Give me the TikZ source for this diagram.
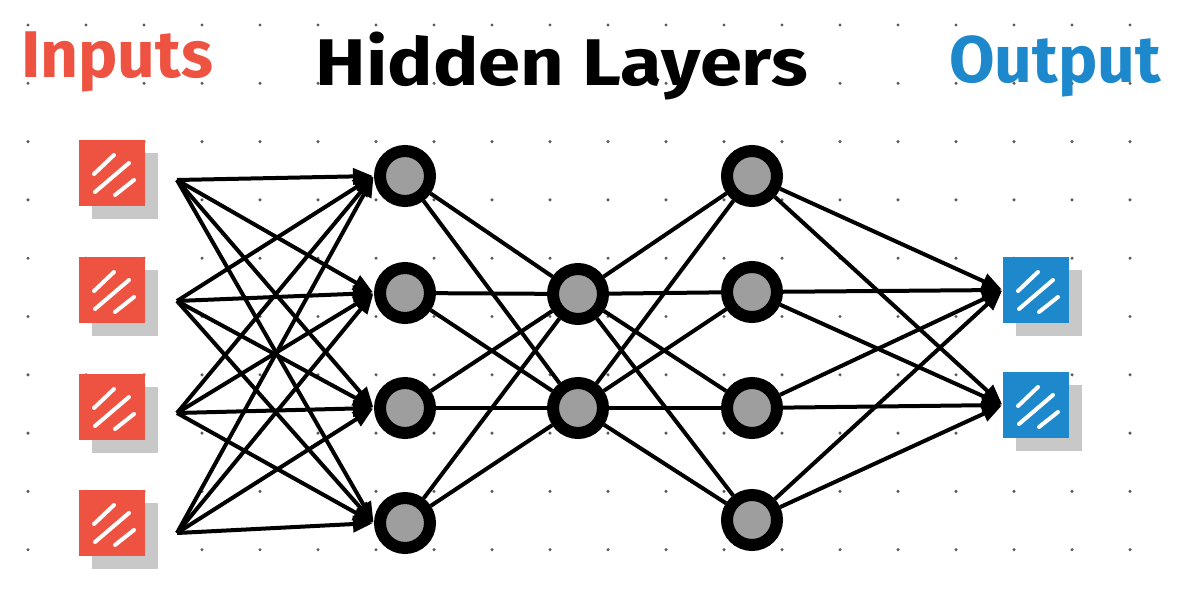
\documentclass[tikz,border=0pt]{standalone}
\usepackage{fontspec}
\setmainfont{Fira Sans}
\usetikzlibrary{arrows.meta,shadows}

\definecolor{inred}{RGB}{238,82,64}
\definecolor{outblue}{RGB}{30,136,204}
\definecolor{cellgray}{RGB}{158,158,158}
\definecolor{shadowgray}{RGB}{200,200,200}
\definecolor{dotgray}{RGB}{90,90,90}

\tikzset{
  title/.style={font=\fontsize{66}{72}\selectfont\bfseries, inner sep=0pt},
  inbox/.style={rectangle, fill=inred, minimum size=66pt, inner sep=0pt,
    drop shadow={shadow xshift=13pt, shadow yshift=-13pt, fill=shadowgray, opacity=1}},
  outbox/.style={inbox, fill=outblue},
  neuron/.style={circle, draw=black, line width=12pt, fill=cellgray, minimum size=50pt, inner sep=0pt},
  hatch/.style={white, line width=4pt, line cap=round},
  link/.style={black, line width=4pt},
  arrowlink/.style={link, -{Triangle[length=20pt,width=16pt]}, shorten >=1pt}
}

\begin{document}
\begin{tikzpicture}[x=1pt,y=-1pt]
\useasboundingbox (0,0) rectangle (1180,591);
% dot grid
\foreach \i in {0,...,19} \foreach \j in {0,...,9} \fill[dotgray] (28+58*\i, 25+58.3*\j) circle (1.7pt);

\node (inputs) [title, text=inred] at (117,62) {Inputs};
\node (hidden) [title] at (562,66) {\scalebox{1.15}[1]{Hidden Layers}};
\node (output) [title, text=outblue] at (1055,66) {Output};

% inputs and outputs, with their stripes
\foreach \n/\x/\y in {in1/112/173,in2/112/290,in3/112/407,in4/112/523,out1/1036/290,out2/1036/405}{
  \ifnum\x<500 \node (\n) [inbox] at (\x,\y) {}; \else \node (\n) [outbox] at (\x,\y) {}; \fi
  \draw[hatch] (\x-18,\y+1) -- (\x+2,\y-18);
  \draw[hatch] (\x-17,\y+19) -- (\x+17,\y-10);
  \draw[hatch] (\x+3,\y+22) -- (\x+22,\y+7);
}
\foreach \i/\fy in {1/180,2/301,3/413,4/533} \coordinate (fan\i) at (177,\fy);
% hidden layers
\foreach \i/\y in {1/176,2/293,3/408,4/523} \node (ha\i) [neuron] at (405,\y) {};
\foreach \i/\y in {1/294,2/408} \node (hb\i) [neuron] at (578,\y) {};
\foreach \i/\y in {1/176,2/292,3/408,4/520} \node (hc\i) [neuron] at (752,\y) {};

% connections
\foreach \i in {1,...,4} \foreach \j in {1,...,4} \draw[arrowlink] (fan\i) -- (ha\j.west);
\foreach \i in {1,...,4} \foreach \j in {1,2} \draw[link] (ha\i) -- (hb\j);
\foreach \i in {1,2} \foreach \j in {1,...,4} \draw[link] (hb\i) -- (hc\j);
\foreach \i in {1,...,4} \foreach \j in {1,2} \draw[arrowlink] (hc\i) -- (out\j.west);
\end{tikzpicture}
\end{document}
